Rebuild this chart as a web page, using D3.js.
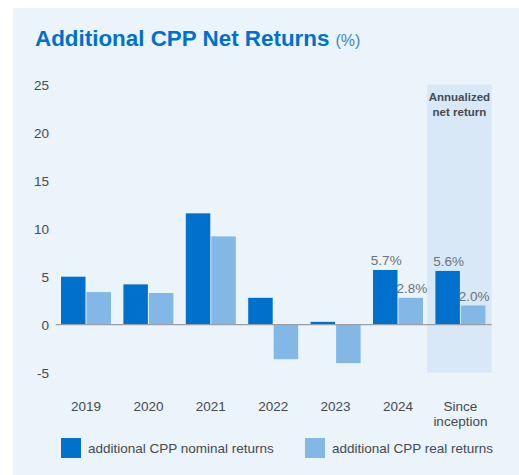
<!DOCTYPE html>
<html>
<head>
<meta charset="utf-8">
<script src="https://cdn.jsdelivr.net/npm/d3@7"></script>
<style>
  html, body { margin: 0; padding: 0; background: #ffffff; }
  svg { display: block; font-family: "Liberation Sans", Arial, Helvetica, sans-serif; }
</style>
</head>
<body>
<svg id="chart" width="519" height="475"></svg>
<script>
// ---- Data ----
const categories = ["2019", "2020", "2021", "2022", "2023", "2024", "Since inception"];
const nominalReturns = [5.0, 4.2, 11.6, 2.8, 0.3, 5.7, 5.6];
const realReturns = [3.4, 3.3, 9.2, -3.6, -4.0, 2.8, 2.0];
const seriesNames = ["additional CPP nominal returns", "additional CPP real returns"];
const yTicks = [-5, 0, 5, 10, 15, 20, 25];
const labeledCategories = ["2024", "Since inception"];
const highlightCategory = "Since inception";
const highlightTitle = ["Annualized", "net return"];
const titleText = "Additional CPP Net Returns";
const titleUnit = "(%)";

// ---- Styles ----
const colors = ["#0070cd", "#82b7e6"];
const panelColor = "#ebf3fb";
const highlightColor = "#d8e8f7";
const textColor = "#444a52";

const svg = d3.select("#chart");

svg.append("rect")
  .attr("x", 13).attr("y", 8).attr("width", 506).attr("height", 467)
  .attr("fill", panelColor);

const x = d3.scaleBand().domain(categories).range([54.8, 491.6]).padding(0);
const xs = d3.scaleBand().domain(seriesNames).range([-25, 25]).paddingInner(0.04);
const y = d3.scaleLinear().domain([-5, 25]).range([372.7, 84.7]);

// highlight column
svg.append("rect")
  .attr("x", x(highlightCategory) - 2)
  .attr("y", y(25))
  .attr("width", x.bandwidth() + 2)
  .attr("height", y(-5) - y(25))
  .attr("fill", highlightColor);

svg.append("text")
  .attr("x", x(highlightCategory) + x.bandwidth() / 2 - 1)
  .attr("y", 101)
  .attr("text-anchor", "middle")
  .attr("font-size", 11.5)
  .attr("font-weight", "bold")
  .attr("fill", textColor)
  .selectAll("tspan").data(highlightTitle).join("tspan")
  .attr("x", x(highlightCategory) + x.bandwidth() / 2 - 1)
  .attr("dy", (d, i) => i === 0 ? 0 : 15)
  .text(d => d);

// title
const title = svg.append("text")
  .attr("x", 35).attr("y", 46)
  .attr("fill", "#0070cd");
title.append("tspan")
  .attr("font-size", 22.4).attr("font-weight", "bold")
  .text(titleText);
title.append("tspan")
  .attr("dx", 6)
  .attr("font-size", 16)
  .attr("fill", "#3a86d4")
  .text(titleUnit);

// y axis
const yAxis = d3.axisLeft(y).tickValues(yTicks).tickSize(0).tickPadding(0)
  .tickFormat(d => String(d));
const gy = svg.append("g").attr("transform", "translate(49,0)").call(yAxis);
gy.select(".domain").remove();
gy.selectAll("text")
  .attr("font-size", 13.5)
  .attr("font-family", "Liberation Sans, Arial, sans-serif")
  .attr("fill", textColor)
  .attr("dy", "0.36em");

// bars
const data = categories.map((c, i) => ({ cat: c, values: [nominalReturns[i], realReturns[i]] }));
const groups = svg.append("g").selectAll("g").data(data).join("g")
  .attr("transform", d => `translate(${x(d.cat) + x.bandwidth() / 2},0)`);

groups.selectAll("rect").data(d => d.values.map((v, j) => ({ v, j, cat: d.cat }))).join("rect")
  .attr("x", d => xs(seriesNames[d.j]))
  .attr("width", xs.bandwidth())
  .attr("y", d => y(Math.max(0, d.v)))
  .attr("height", d => Math.abs(y(d.v) - y(0)))
  .attr("fill", d => colors[d.j]);

// value labels
groups.filter(d => labeledCategories.includes(d.cat))
  .selectAll("text.val").data(d => d.values.map((v, j) => ({ v, j }))).join("text")
  .attr("class", "val")
  .attr("x", d => xs(seriesNames[d.j]) + xs.bandwidth() / 2 + 1)
  .attr("y", d => y(Math.max(0, d.v)) - 5)
  .attr("text-anchor", "middle")
  .attr("font-size", 13.5)
  .attr("fill", "#6b717a")
  .text(d => d.v.toFixed(1) + "%");

// zero line
svg.append("line")
  .attr("x1", x.range()[0] + 1).attr("x2", x.range()[1])
  .attr("y1", y(0)).attr("y2", y(0))
  .attr("stroke", "#9a9fa5").attr("stroke-width", 1.2);

// x labels
const xl = svg.append("g").selectAll("text").data(categories).join("text")
  .attr("x", d => x(d) + x.bandwidth() / 2)
  .attr("y", 410.5)
  .attr("text-anchor", "middle")
  .attr("font-size", 13.5)
  .attr("fill", textColor);
xl.each(function(d) {
  const words = d === "Since inception" ? ["Since", "inception"] : [d];
  d3.select(this).selectAll("tspan").data(words).join("tspan")
    .attr("x", x(d) + x.bandwidth() / 2)
    .attr("dy", (w, i) => i === 0 ? 0 : 15)
    .text(w => w);
});

// legend
const legendX = [61, 305];
const lg = svg.append("g").selectAll("g").data(seriesNames).join("g")
  .attr("transform", (d, i) => `translate(${legendX[i]},438)`);
lg.append("rect").attr("width", 20).attr("height", 20).attr("fill", (d, i) => colors[i]);
lg.append("text").attr("x", 27).attr("y", 15)
  .attr("font-size", 13.5).attr("fill", textColor).text(d => d);
</script>
</body>
</html>
